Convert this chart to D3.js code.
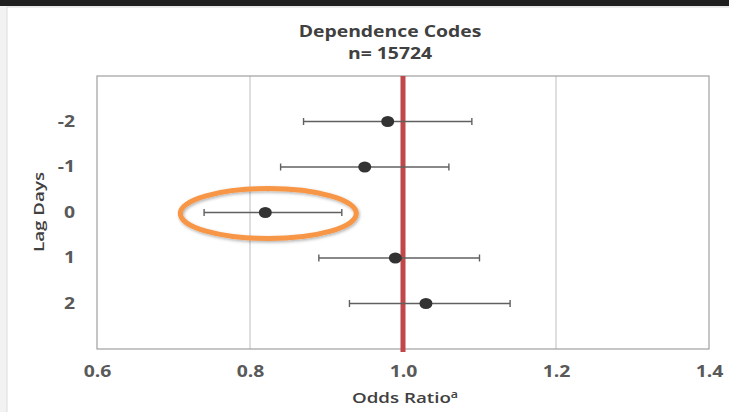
<!DOCTYPE html>
<html><head><meta charset="utf-8">
<script src="https://cdn.jsdelivr.net/npm/d3@7"></script>
<style>body{margin:0;background:#f2f2f2;} svg{display:block;}</style>
</head><body>
<svg id="c" width="729" height="412"></svg>
<script>
const lagDays = ["-2","-1","0","1","2"];
const oddsRatio = [0.98, 0.95, 0.82, 0.99, 1.03];
const ciLower = [0.87, 0.84, 0.74, 0.89, 0.93];
const ciUpper = [1.09, 1.06, 0.92, 1.10, 1.14];
const xTicks = [0.6, 0.8, 1.0, 1.2, 1.4];
const title = "Dependence Codes";
const subtitle = "n= 15724";
const highlighted = "0";

const svg = d3.select("#c");
const font = "'Open Sans', 'Noto Sans', sans-serif";
const SX = 1.25; // horizontal stretch of text, as in the reference
// frame
svg.append("rect").attr("x",0).attr("y",0).attr("width",729).attr("height",412).attr("fill","#f2f2f2");
svg.append("rect").attr("x",7).attr("y",7).attr("width",730).attr("height",410).attr("fill","#fff").attr("stroke","#dcdcdc");
svg.append("rect").attr("x",0).attr("y",0).attr("width",729).attr("height",6).attr("fill","#1f1f1f");

const L=97,R=709,T=76,B=349;
const x = d3.scaleLinear().domain([0.6,1.4]).range([L,R]);
const y = d3.scalePoint().domain(["", ...lagDays, " "]).range([T,B]);

// gridlines
svg.append("g").selectAll("line").data(xTicks.filter(d=>d>0.6&&d<1.4&&d!==1.0)).join("line")
  .attr("x1",d=>x(d)).attr("x2",d=>x(d)).attr("y1",T).attr("y2",B)
  .attr("stroke","#c8c8c8").attr("stroke-width",1.2);
// border
svg.append("rect").attr("x",L).attr("y",T).attr("width",R-L).attr("height",B-T)
  .attr("fill","none").attr("stroke","#a0a0a0").attr("stroke-width",1.2);

// x axis labels
const xa = d3.axisBottom(x).tickValues(xTicks).tickFormat(d3.format(".1f")).tickSize(0).tickPadding(17);
const gx = svg.append("g").attr("transform",`translate(0,${B})`).call(xa);
gx.select(".domain").remove();
gx.selectAll("text").attr("font-family",font).attr("font-weight","bold").attr("font-size",15.5)
  .attr("fill","#595959").attr("transform",`scale(${SX},1)`);

// y axis labels
const ya = d3.axisLeft(y).tickValues(lagDays).tickSize(0).tickPadding(22);
const gy = svg.append("g").attr("transform",`translate(${L},0)`).call(ya);
gy.select(".domain").remove();
gy.selectAll("text").attr("font-family",font).attr("font-weight","bold").attr("font-size",15.5)
  .attr("fill","#595959").attr("x",-22/SX).attr("transform",`scale(${SX},1)`);

// reference line at 1.0
svg.append("line").attr("x1",x(1.0)).attr("x2",x(1.0)).attr("y1",T).attr("y2",B+3)
  .attr("stroke","#c0474a").attr("stroke-width",5);

// error bars
const rows = lagDays.map((d,i)=>({d, v:oddsRatio[i], lo:ciLower[i], hi:ciUpper[i]}));
const eb = svg.append("g").attr("stroke","#606060").attr("stroke-width",1.4);
eb.selectAll("line.m").data(rows).join("line").attr("class","m")
  .attr("x1",r=>x(r.lo)).attr("x2",r=>x(r.hi)).attr("y1",r=>y(r.d)).attr("y2",r=>y(r.d));
eb.selectAll("line.l").data(rows).join("line").attr("class","l")
  .attr("x1",r=>x(r.lo)).attr("x2",r=>x(r.lo)).attr("y1",r=>y(r.d)-3.5).attr("y2",r=>y(r.d)+3.5);
eb.selectAll("line.h").data(rows).join("line").attr("class","h")
  .attr("x1",r=>x(r.hi)).attr("x2",r=>x(r.hi)).attr("y1",r=>y(r.d)-3.5).attr("y2",r=>y(r.d)+3.5);
// points
svg.append("g").selectAll("ellipse").data(rows).join("ellipse")
  .attr("cx",r=>x(r.v)).attr("cy",r=>y(r.d)).attr("rx",6.5).attr("ry",5.5).attr("fill","#333");

// highlight ellipse
const hi = rows.find(r=>r.d===highlighted);
const defs = svg.append("defs");
const f = defs.append("filter").attr("id","sh").attr("x","-20%").attr("y","-50%").attr("width","140%").attr("height","200%");
f.append("feDropShadow").attr("dx",1).attr("dy",1.5).attr("stdDeviation",1.5).attr("flood-color","#000").attr("flood-opacity",0.3);
svg.append("ellipse").attr("cx",x(hi.v)+3).attr("cy",y(hi.d)+1).attr("rx",88).attr("ry",25)
  .attr("fill","none").attr("stroke","#f79646").attr("stroke-width",5).attr("filter","url(#sh)");

// titles (horizontally stretched text)
function stretched(cx, by, txt, size, weight, fill){
  const g = svg.append("g").attr("transform",`translate(${cx},${by}) scale(${SX},1)`);
  return g.append("text").attr("x",0).attr("y",0).attr("text-anchor","middle").attr("font-family",font)
    .attr("font-weight",weight).attr("font-size",size).attr("fill",fill).text(txt);
}
stretched(390, 37, title, 15.5, "bold", "#404040");
stretched(390, 59, subtitle, 15.5, "bold", "#404040");
const xt = stretched(405, 403, "", 15, "600", "#404040");
xt.append("tspan").text("Odds Ratio");
xt.append("tspan").attr("font-size",10).attr("dy",-5).text("a");
svg.append("g").attr("transform",`translate(44,212) rotate(-90) scale(${SX},1)`)
  .append("text").attr("text-anchor","middle").attr("font-family",font)
  .attr("font-weight","600").attr("font-size",15).attr("fill","#404040").text("Lag Days");
</script>
</body></html>
